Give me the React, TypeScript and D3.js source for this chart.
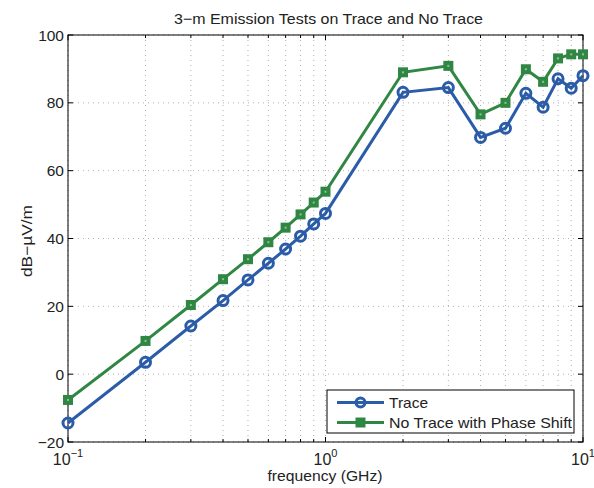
import React from "react";
import * as d3 from "d3";

const freqs = [0.1, 0.2, 0.3, 0.4, 0.5, 0.6, 0.7, 0.8, 0.9, 1, 2, 3, 4, 5, 6, 7, 8, 9, 10];
const traceVals = [-14.4, 3.5, 14.2, 21.7, 27.8, 32.7, 36.9, 40.7, 44.3, 47.4, 83.1, 84.5, 69.8, 72.5, 82.8, 78.7, 87.1, 84.3, 88];
const noTraceVals = [-7.6, 9.8, 20.4, 28, 33.9, 38.9, 43.2, 47.1, 50.6, 53.8, 89, 90.9, 76.6, 80, 89.9, 86.2, 93.1, 94.3, 94.3];
const yTicks = [-20, 0, 20, 40, 60, 80, 100];
const xMajor = [0.1, 1, 10];
const xExp = ["\u22121", "0", "1"];
const seriesNames = ["Trace", "No Trace with Phase Shift"];
const title = "3\u2212m Emission Tests on Trace and No Trace";
const xLabel = "frequency (GHz)";
const yLabel = "dB\u2212\u00b5V/m";

const BLUE = "#2b5ca8";
const GREEN = "#2f8743";
const FONT = "'Liberation Sans', Arial, Helvetica, sans-serif";
const TXT = "#222";

export default function App() {
  const W = 594, H = 488;
  const L = 68, R = 583, T = 35, B = 442;
  const x = d3.scaleLog().domain([0.1, 10]).range([L, R]);
  const y = d3.scaleLinear().domain([-20, 100]).range([B, T]);
  const minor: number[] = [];
  [0.1, 1].forEach((d) => { for (let k = 2; k <= 9; k++) minor.push(d * k); });
  const line = d3.line<[number, number]>().x((d) => x(d[0])).y((d) => y(d[1]));
  const tData: [number, number][] = freqs.map((f, i) => [f, traceVals[i]]);
  const nData: [number, number][] = freqs.map((f, i) => [f, noTraceVals[i]]);
  const gridStyle = { stroke: "#9a9a9a", strokeWidth: 0.8, strokeDasharray: "1,4" };
  const sq = 8;
  return (
    <svg width={W} height={H} style={{ position: "absolute", left: 0, top: 0, background: "#fff" }} fontFamily={FONT}>
      <rect x={0} y={0} width={W} height={H} fill="#fff" />
      {/* grid */}
      {[...xMajor, ...minor].map((v, i) => (
        <line key={"gx" + i} x1={x(v)} x2={x(v)} y1={T} y2={B} {...gridStyle} />
      ))}
      {yTicks.map((v, i) => (
        <line key={"gy" + i} x1={L} x2={R} y1={y(v)} y2={y(v)} {...gridStyle} />
      ))}
      {/* ticks */}
      {yTicks.map((v, i) => (
        <g key={"ty" + i}>
          <line x1={L} x2={L + 5} y1={y(v)} y2={y(v)} stroke="#000" />
          <line x1={R} x2={R - 5} y1={y(v)} y2={y(v)} stroke="#000" />
          <text x={L - 4} y={y(v)} dy="0.36em" textAnchor="end" fontSize={15.5} fill={TXT}>{v < 0 ? "\u2212" + Math.abs(v) : v}</text>
        </g>
      ))}
      {xMajor.map((v, i) => (
        <g key={"tx" + i}>
          <line x1={x(v)} x2={x(v)} y1={B} y2={B - 5} stroke="#000" />
          <line x1={x(v)} x2={x(v)} y1={T} y2={T + 5} stroke="#000" />
          <text x={x(v)} y={B + 23} textAnchor="middle" fontSize={16} fill={TXT}>
            10<tspan dy={-8} fontSize={11}>{xExp[i]}</tspan>
          </text>
        </g>
      ))}
      {minor.map((v, i) => (
        <g key={"mx" + i}>
          <line x1={x(v)} x2={x(v)} y1={B} y2={B - 3} stroke="#000" />
          <line x1={x(v)} x2={x(v)} y1={T} y2={T + 3} stroke="#000" />
        </g>
      ))}
      {/* axes box */}
      <rect x={L} y={T} width={R - L} height={B - T} fill="none" stroke="#000" strokeWidth={1} />
      {/* series */}
      <path d={line(nData) || ""} fill="none" stroke={GREEN} strokeWidth={3} />
      {nData.map((d, i) => (
        <g key={"ns" + i}>
          <rect x={x(d[0]) - sq / 2} y={y(d[1]) - sq / 2} width={sq} height={sq} fill={GREEN} stroke={GREEN} strokeWidth={2} />
          <rect x={x(d[0]) - 1} y={y(d[1]) - 1} width={2} height={2} fill="#8fbf99" />
        </g>
      ))}
      <path d={line(tData) || ""} fill="none" stroke={BLUE} strokeWidth={3} />
      {tData.map((d, i) => (
        <circle key={"tc" + i} cx={x(d[0])} cy={y(d[1])} r={5} fill="none" stroke={BLUE} strokeWidth={3} />
      ))}
      {/* legend */}
      <rect x={327} y={390} width={247} height={43} fill="#fff" stroke="#000" strokeWidth={1} />
      <line x1={337} x2={384} y1={402.5} y2={402.5} stroke={BLUE} strokeWidth={3} />
      <circle cx={360.5} cy={402.5} r={4.5} fill="none" stroke={BLUE} strokeWidth={3} />
      <text x={389} y={402.5} dy="0.36em" fontSize={15} textLength={39} lengthAdjust="spacingAndGlyphs" fill={TXT}>{seriesNames[0]}</text>
      <line x1={337} x2={384} y1={422.5} y2={422.5} stroke={GREEN} strokeWidth={3} />
      <rect x={360.5 - sq / 2} y={422.5 - sq / 2} width={sq} height={sq} fill={GREEN} stroke={GREEN} strokeWidth={2} />
      <text x={389} y={422.5} dy="0.36em" fontSize={15} textLength={183} lengthAdjust="spacingAndGlyphs" fill={TXT}>{seriesNames[1]}</text>
      {/* labels */}
      <text x={328.5} y={23.5} textAnchor="middle" fontSize={15} textLength={309} lengthAdjust="spacingAndGlyphs" fill={TXT}>{title}</text>
      <text x={325} y={481} textAnchor="middle" fontSize={15} textLength={115} lengthAdjust="spacingAndGlyphs" fill={TXT}>{xLabel}</text>
      <text transform={`translate(32,241) rotate(-90)`} textAnchor="middle" fontSize={15} textLength={72} lengthAdjust="spacingAndGlyphs" fill={TXT}>{yLabel}</text>
    </svg>
  );
}
